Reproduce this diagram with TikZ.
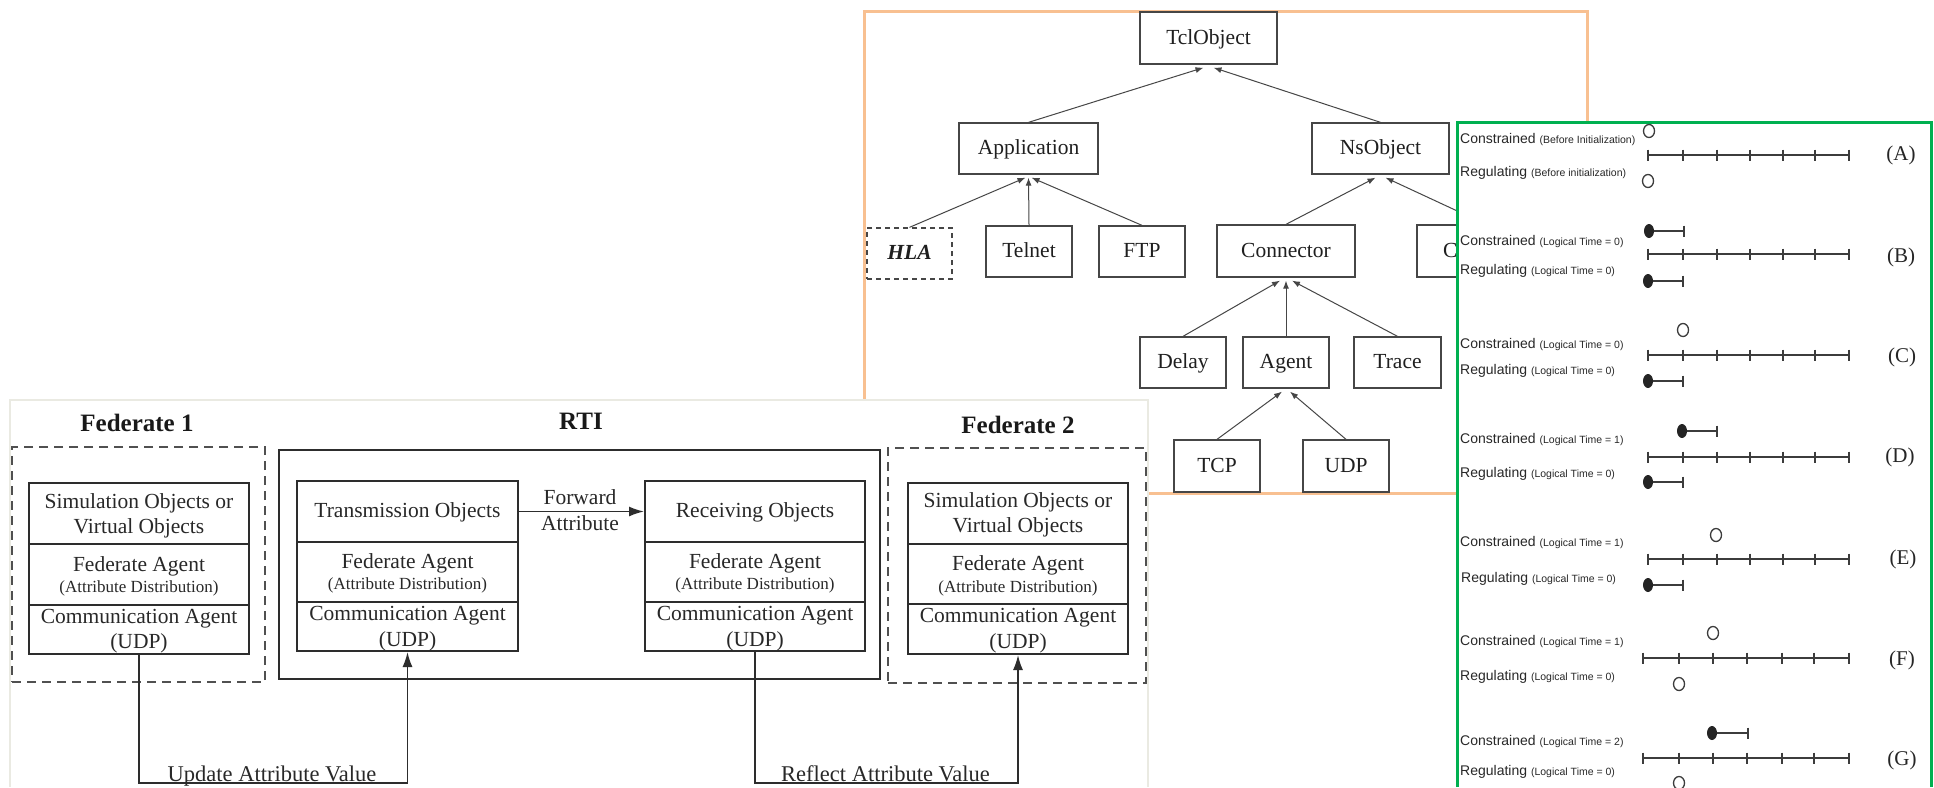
\documentclass[tikz,border=0pt]{standalone}
\usepackage{fontspec}
\setmainfont{Liberation Serif}
\newfontfamily\panelsans{Liberation Sans}
\usetikzlibrary{arrows.meta}

\definecolor{framecol}{RGB}{248,192,145}
\definecolor{panelgreen}{RGB}{0,176,80}
\definecolor{treeline}{RGB}{70,70,70}
\definecolor{fedline}{RGB}{45,45,45}
\definecolor{dashcol}{RGB}{80,80,80}
\definecolor{imgedge}{RGB}{234,234,226}
\definecolor{inkgray}{RGB}{40,40,40}
\definecolor{axiscol}{RGB}{60,60,60}

% small sans type for the parenthetical notes in the time panel
\newcommand\psmallfont{\panelsans\fontsize{10.5}{12}\selectfont}
% time axis at y = #1 running from x = #2 to x = #3, with end ticks
\newcommand\timeaxis[3]{%
  \draw[axisline] (#2,#1) -- (#3,#1);
  \foreach \tk in {#2,#3}{\draw[axisline] (\tk,#1-5.5) -- (\tk,#1+5.5);}}
% inner ticks of a time axis at y = #1
\newcommand\innerticks[2]{%
  \foreach \tk in {#2}{\draw[axisline] (\tk,#1-5.5) -- (\tk,#1+5.5);}}
% open marker at (#1,#2)
\newcommand\openmark[2]{\draw[markline] (#1,#2) ellipse [x radius=5.5pt, y radius=6.5pt];}
% filled marker at (#1,#2) with a bar up to x = #3
\newcommand\barmark[3]{%
  \draw[markline] (#1,#2) -- (#3,#2);
  \draw[markline] (#3,#2-5.5) -- (#3,#2+5.5);
  \fill[axiscol!60!black] (#1,#2) ellipse [x radius=5pt, y radius=7pt];}

\begin{document}
\begin{tikzpicture}[x=1pt,y=-1pt,
  tbox/.style={draw=treeline, line width=1.3pt, inner sep=0pt, minimum height=51pt,
    text height=16pt, text depth=4pt, font=\fontsize{21.5}{24}\selectfont, text=black!88},
  tarrow/.style={draw=treeline, line width=1pt, -{Latex[length=8pt,width=6pt]}},
  sec/.style={draw=fedline, line width=2pt, inner sep=0pt, minimum width=220pt},
  ftxt/.style={anchor=base, inner sep=0pt, font=\fontsize{21.5}{24}\selectfont, text=inkgray},
  fsmall/.style={anchor=base, inner sep=0pt, font=\fontsize{17}{19}\selectfont, text=inkgray},
  ftitle/.style={anchor=base, inner sep=0pt, font=\bfseries\fontsize{25}{28}\selectfont, text=black!90},
  dashbox/.style={draw=dashcol, line width=2pt, dash pattern=on 9pt off 6pt, inner sep=0pt},
  farrow/.style={draw=fedline, line width=1.6pt, -{Latex[length=15pt,width=10pt]}},
  plabel/.style={anchor=base west, inner sep=0pt, font=\panelsans\fontsize{14}{16}\selectfont, text=inkgray},
  caselabel/.style={anchor=base, inner sep=0pt, font=\fontsize{21}{24}\selectfont, text=black!85},
  axisline/.style={draw=axiscol, line width=1.3pt},
  markline/.style={draw=axiscol, line width=1.3pt}
]
\useasboundingbox (0,0) rectangle (1934,787);
\clip (0,0) rectangle (1934,787);
\fill[white] (0,0) rectangle (1934,787);

% ---------------- ns-2 class tree ----------------
\draw[framecol, line width=3pt] (864,11) rectangle (1587,493);

\node[tbox, minimum width=137pt, minimum height=52pt] (tcl) at (1208.5,38) {TclObject};
\node[tbox, minimum width=139pt] (app) at (1028.5,148.5) {Application};
\node[tbox, minimum width=137pt] (ns) at (1380.5,148.5) {NsObject};
\node[tbox, minimum width=85pt, dash pattern=on 5pt off 4pt, font=\bfseries\itshape\fontsize{21.5}{24}\selectfont] (hla) at (909.5,253.5) {HLA};
\node[tbox, minimum width=86pt] (telnet) at (1029,251.5) {Telnet};
\node[tbox, minimum width=86pt] (ftp) at (1142,251.5) {FTP};
\node[tbox, minimum width=138pt, minimum height=52pt] (conn) at (1286,251) {Connector};
\node[tbox, minimum width=138pt, minimum height=52pt] (cbox) at (1486,251) {};
\node[anchor=base west, inner sep=0pt, font=\fontsize{21.5}{24}\selectfont, text=black!88] (cboxtext) at (1443,257) {C};
\node[tbox, minimum width=86pt] (delay) at (1183,362.5) {Delay};
\node[tbox, minimum width=86pt] (agent) at (1286,362.5) {Agent};
\node[tbox, minimum width=87pt] (trace) at (1397.5,362.5) {Trace};
\node[tbox, minimum width=86pt, minimum height=52pt] (tcp) at (1217,466) {TCP};
\node[tbox, minimum width=86pt, minimum height=52pt] (udp) at (1346,466) {UDP};

\draw[tarrow] (app.north) -- ([xshift=-5pt,yshift=-3pt]tcl.south);
\draw[tarrow] (ns.north) -- ([xshift=5pt,yshift=-3pt]tcl.south);
\draw[tarrow] (hla.north) -- ([xshift=-3pt,yshift=-3pt]app.south);
\draw[tarrow] (telnet.north) -- ([yshift=-3pt]app.south);
\draw[tarrow] (ftp.north) -- ([xshift=3pt,yshift=-3pt]app.south);
\draw[tarrow] (conn.north) -- ([xshift=-5pt,yshift=-3pt]ns.south);
\draw[tarrow] (cbox.north) -- ([xshift=5pt,yshift=-3pt]ns.south);
\draw[tarrow] (delay.north) -- ([xshift=-6pt,yshift=-3pt]conn.south);
\draw[tarrow] (agent.north) -- ([yshift=-3pt]conn.south);
\draw[tarrow] (trace.north) -- ([xshift=6pt,yshift=-3pt]conn.south);
\draw[tarrow] (tcp.north) -- ([xshift=-4pt,yshift=-3pt]agent.south);
\draw[tarrow] (udp.north) -- ([xshift=4pt,yshift=-3pt]agent.south);

% ---------------- federation layout ----------------
\fill[white] (10,400) rectangle (1148,787);
\draw[imgedge, line width=2pt] (10,787) -- (10,400) -- (1148,400) -- (1148,787);

\node[ftitle] (t1) at (137,431) {Federate 1};
\node[ftitle] (t2) at (581,429) {RTI};
\node[ftitle] (t3) at (1018,433) {Federate 2};

\node[dashbox, minimum width=253pt, minimum height=235pt] (fed1) at (138.5,564.5) {};
\node[draw=fedline, line width=2pt, inner sep=0pt, minimum width=601pt, minimum height=229pt] (rti) at (579.5,564.5) {};
\node[dashbox, minimum width=258pt, minimum height=235pt] (fed2) at (1017,565.5) {};

% Federate 1 stack
\node[sec, minimum height=61pt] (f1a) at (139,513.5) {};
\node[sec, minimum height=61pt] (f1b) at (139,574.5) {};
\node[sec, minimum height=49pt] (f1c) at (139,629.5) {};
\node[ftxt] (f1a1) at (139,508) {Simulation Objects or};
\node[ftxt] (f1a2) at (139,533) {Virtual Objects};
\node[ftxt] (f1b1) at (139,571) {Federate Agent};
\node[fsmall] (f1b2) at (139,592) {(Attribute Distribution)};
\node[ftxt] (f1c1) at (139,623) {Communication Agent};
\node[ftxt] (f1c2) at (139,648) {(UDP)};

% RTI transmission stack
\node[sec, minimum width=221pt, minimum height=61pt] (tsa) at (407.5,511.5) {};
\node[sec, minimum width=221pt, minimum height=60pt] (tsb) at (407.5,572) {};
\node[sec, minimum width=221pt, minimum height=49pt] (tsc) at (407.5,626.5) {};
\node[ftxt] (tsa1) at (407.5,517) {Transmission Objects};
\node[ftxt] (tsb1) at (407.5,568) {Federate Agent};
\node[fsmall] (tsb2) at (407.5,589) {(Attribute Distribution)};
\node[ftxt] (tsc1) at (407.5,620) {Communication Agent};
\node[ftxt] (tsc2) at (407.5,646) {(UDP)};

% RTI receiving stack
\node[sec, minimum height=61pt] (rsa) at (755,511.5) {};
\node[sec, minimum height=60pt] (rsb) at (755,572) {};
\node[sec, minimum height=49pt] (rsc) at (755,626.5) {};
\node[ftxt] (rsa1) at (755,517) {Receiving Objects};
\node[ftxt] (rsb1) at (755,568) {Federate Agent};
\node[fsmall] (rsb2) at (755,589) {(Attribute Distribution)};
\node[ftxt] (rsc1) at (755,620) {Communication Agent};
\node[ftxt] (rsc2) at (755,646) {(UDP)};

% Federate 2 stack
\node[sec, minimum height=61pt] (f2a) at (1018,513.5) {};
\node[sec, minimum height=60pt] (f2b) at (1018,574) {};
\node[sec, minimum height=50pt] (f2c) at (1018,629) {};
\node[ftxt] (f2a1) at (1018,507) {Simulation Objects or};
\node[ftxt] (f2a2) at (1018,532) {Virtual Objects};
\node[ftxt] (f2b1) at (1018,570) {Federate Agent};
\node[fsmall] (f2b2) at (1018,592) {(Attribute Distribution)};
\node[ftxt] (f2c1) at (1018,622) {Communication Agent};
\node[ftxt] (f2c2) at (1018,648) {(UDP)};

% message flow
\coordinate (bus) at (0,783);
\draw[farrow] (tsa.east) -- (rsa.west);
\node[ftxt] (fw1) at (580,504) {Forward};
\node[ftxt] (fw2) at (580,530) {Attribute};
\draw[farrow] (f1c.south) -- (f1c.south |- bus) -| (tsc.south);
\draw[farrow] (rsc.south) -- (rsc.south |- bus) -| (f2c.south);
\node[ftxt, font=\fontsize{22.5}{24}\selectfont] (upd) at (272,781.5) {Update Attribute Value};
\node[ftxt, font=\fontsize{22.5}{24}\selectfont] (refl) at (885.5,781.5) {Reflect Attribute Value};

% ---------------- time management panel ----------------
\fill[white] (1457,122) rectangle (1931,787);
\draw[panelgreen, line width=3pt] (1457,787) -- (1457,122) -- (1931,122) -- (1931,787);

% (A)
\node[plabel] (ca) at (1460,143) {Constrained {\psmallfont (Before Initialization)}};
\node[plabel] (ra) at (1460,176) {Regulating {\psmallfont (Before initialization)}};
\timeaxis{155}{1648}{1849}\innerticks{155}{1683,1717,1750,1783,1815}
\openmark{1649}{131}\openmark{1648}{181}
\node[caselabel] (la) at (1901,160) {(A)};
% (B)
\node[plabel] (cb) at (1460,245) {Constrained {\psmallfont (Logical Time = 0)}};
\node[plabel] (rb) at (1460,274) {Regulating {\psmallfont (Logical Time = 0)}};
\timeaxis{254}{1648}{1849}\innerticks{254}{1683,1717,1750,1783,1815}
\barmark{1649}{231}{1684}\barmark{1648}{281}{1683}
\node[caselabel] (lb) at (1901,262) {(B)};
% (C)
\node[plabel] (cc) at (1460,348) {Constrained {\psmallfont (Logical Time = 0)}};
\node[plabel] (rc) at (1460,374) {Regulating {\psmallfont (Logical Time = 0)}};
\timeaxis{355}{1648}{1849}\innerticks{355}{1683,1717,1750,1783,1815}
\openmark{1683}{330}\barmark{1648}{381}{1683}
\node[caselabel] (lc) at (1902,362) {(C)};
% (D)
\node[plabel] (cd) at (1460,443) {Constrained {\psmallfont (Logical Time = 1)}};
\node[plabel] (rd) at (1460,477) {Regulating {\psmallfont (Logical Time = 0)}};
\timeaxis{457}{1648}{1849}\innerticks{457}{1683,1717,1750,1783,1815}
\barmark{1682}{431}{1717}\barmark{1648}{482}{1683}
\node[caselabel] (ld) at (1900,462) {(D)};
% (E)
\node[plabel] (ce) at (1460,546) {Constrained {\psmallfont (Logical Time = 1)}};
\node[plabel] (re) at (1461,582) {Regulating {\psmallfont (Logical Time = 0)}};
\timeaxis{559}{1648}{1849}\innerticks{559}{1683,1717,1750,1783,1815}
\openmark{1716}{535}\barmark{1648}{585}{1683}
\node[caselabel] (le) at (1903,564) {(E)};
% (F)
\node[plabel] (cf) at (1460,645) {Constrained {\psmallfont (Logical Time = 1)}};
\node[plabel] (rf) at (1460,680) {Regulating {\psmallfont (Logical Time = 0)}};
\timeaxis{658}{1643}{1849}\innerticks{658}{1679,1713,1747,1782,1814}
\openmark{1713}{633}\openmark{1679}{684}
\node[caselabel] (lf) at (1902,665) {(F)};
% (G)
\node[plabel] (cg) at (1460,745) {Constrained {\psmallfont (Logical Time = 2)}};
\node[plabel] (rg) at (1460,775) {Regulating {\psmallfont (Logical Time = 0)}};
\timeaxis{758}{1643}{1849}\innerticks{758}{1679,1713,1747,1782,1814}
\barmark{1712}{733}{1748}\openmark{1679}{783}
\node[caselabel] (lg) at (1902,765) {(G)};
\end{tikzpicture}
\end{document}
